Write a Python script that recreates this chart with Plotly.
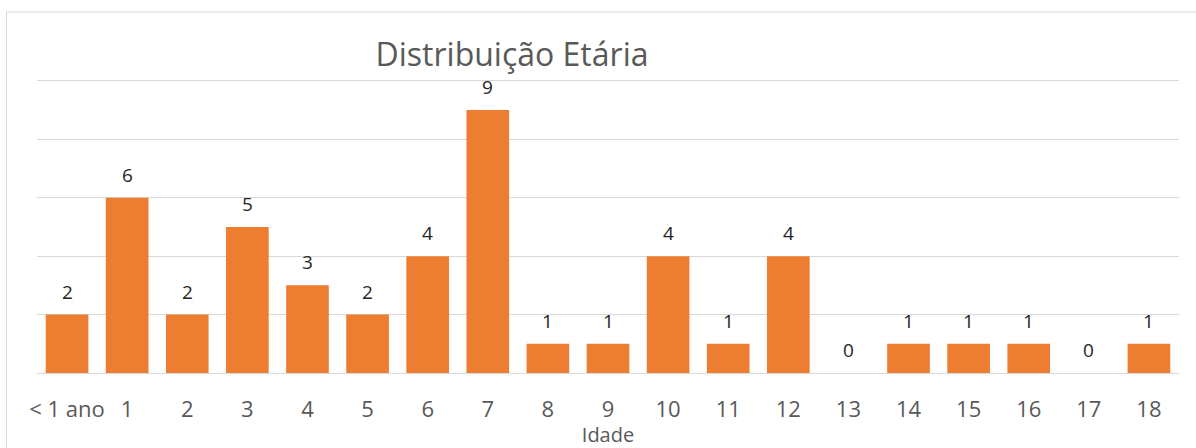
import plotly.graph_objects as go

categories = ["< 1 ano", "1", "2", "3", "4", "5", "6", "7", "8", "9", "10",
              "11", "12", "13", "14", "15", "16", "17", "18"]
values = [2, 6, 2, 5, 3, 2, 4, 9, 1, 1, 4, 1, 4, 0, 1, 1, 1, 0, 1]
grid_vals = [0, 2, 4, 6, 8, 10]

title_text = "Distribuição Etária"
x_title = "Idade"

FONT = "Open Sans"
GREY = "#595959"

W, H = 1196, 448
L, R, T, B = 37, 17, 75, 75
Y_MAX = 10.2

fig = go.Figure(
    go.Bar(
        x=categories,
        y=values,
        marker=dict(color="#ED7D31", line=dict(width=0)),
        hoverinfo="x+y",
    )
)

# data labels, positioned through the axis scales
for c, v in zip(categories, values):
    fig.add_annotation(
        x=c, y=v, xref="x", yref="y",
        text=str(v), showarrow=False,
        yanchor="middle", yshift=23,
        font=dict(family=FONT, size=19, color="#262626"),
    )

fig.update_layout(
    width=W,
    height=H,
    margin=dict(l=L, r=R, t=T, b=B, autoexpand=False),
    paper_bgcolor="white",
    plot_bgcolor="white",
    bargap=0.29,
    showlegend=False,
    title=dict(
        text=title_text,
        x=512 / W,
        xanchor="center",
        y=1 - 55 / H,
        yanchor="middle",
        font=dict(family=FONT, size=32, color=GREY),
    ),
    xaxis=dict(
        type="category",
        automargin=False,
        showgrid=False,
        showline=False,
        zeroline=False,
        ticks="",
        ticklabelstandoff=21,
        tickfont=dict(family=FONT, size=22, color=GREY),
        title=dict(text=x_title, font=dict(family=FONT, size=20, color=GREY), standoff=5),
    ),
    yaxis=dict(
        range=[0, Y_MAX],
        tickmode="array",
        tickvals=grid_vals,
        automargin=False,
        showticklabels=False,
        showgrid=True,
        gridcolor="#D9D9D9",
        gridwidth=1,
        zeroline=True,
        zerolinecolor="#D9D9D9",
        zerolinewidth=1,
        fixedrange=True,
    ),
    shapes=[
        dict(
            type="rect",
            xref="paper", yref="paper",
            x0=(6.5 - L) / (W - L - R), x1=1.1,
            y0=-0.5, y1=(H - B - 12) / (H - B - T),
            line=dict(color="#D9D9D9", width=1),
            fillcolor="rgba(0,0,0,0)",
            layer="below",
        )
    ],
)

fig.write_html(
    "out.html",
    config={"displayModeBar": False},
    post_script="document.body.style.margin='0px';document.body.style.overflow='hidden';",
)
